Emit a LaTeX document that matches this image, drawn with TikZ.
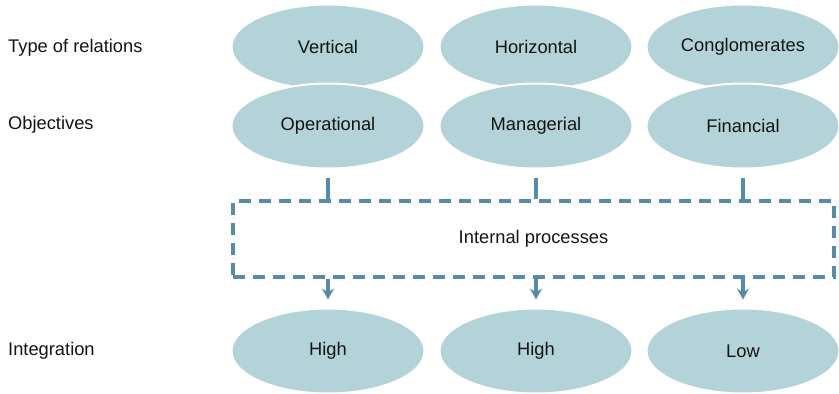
\documentclass[tikz,border=0pt]{standalone}
\usepackage{fontspec}
\setmainfont{Liberation Sans}
\usetikzlibrary{shapes.geometric,arrows.meta}
\definecolor{ellfill}{RGB}{179,211,216}
\definecolor{linecol}{RGB}{88,139,170}
\definecolor{txtcol}{RGB}{20,20,20}
\begin{document}
\begin{tikzpicture}[x=1pt,y=-1pt,
  every node/.style={font=\fontsize{18.3}{21}\selectfont, text=txtcol},
  ell/.style={ellipse, fill=ellfill, draw=white, line width=2pt, minimum width=193pt, minimum height=85pt, inner sep=0pt},
  lbl/.style={anchor=west, inner sep=0pt},
  conn/.style={draw=linecol, line width=3.3pt},
  dbox/.style={draw=linecol, line width=3.3pt, dash pattern=on 12pt off 8pt, minimum width=601pt, minimum height=76pt, inner sep=0pt}
]
\useasboundingbox (0,0) rectangle (839,394);
% row 1
\node[ell] (v) at (328,47) {Vertical};
\node[ell] (h) at (536,47) {Horizontal};
\node[ell] (c) at (743,47) {Conglomerates};
% row 2
\node[ell] (o) at (328,126) {Operational};
\node[ell] (m) at (536,126) {Managerial};
\node[ell] (f) at (743,126) {Financial};
% box
\node[dbox] (box) at (533.5,239) {Internal processes};
% row 3
\node[ell] (i1) at (328,351) {High};
\node[ell] (i2) at (536,351) {High};
\node[ell] (i3) at (743,351) {Low};
% labels
\node[lbl] (l1) at (8,48) {Type of relations};
\node[lbl] (l2) at (8,125) {Objectives};
\node[lbl] (l3) at (8,351) {Integration};
% connectors
\foreach \a/\b in {o/i1, m/i2, f/i3}{
  \draw[conn] ([yshift=-8pt]\a.south) -- (\a |- box.north);
  \draw[conn, -{Stealth[length=11pt,width=12pt,inset=4pt]}] (\b |- box.south) -- ([yshift=8pt]\b.north);
}
\end{tikzpicture}
\end{document}
